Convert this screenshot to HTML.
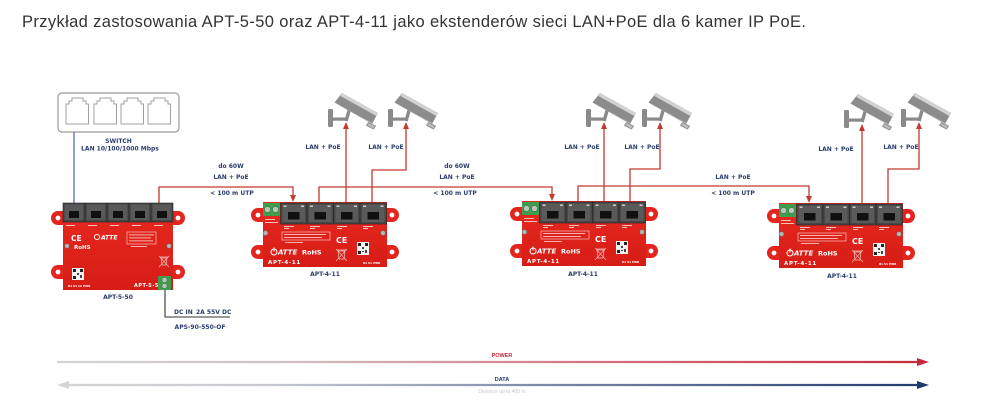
<!DOCTYPE html>
<html><head><meta charset="utf-8">
<style>
html,body{margin:0;padding:0;background:#fff;}
body{width:1003px;height:419px;overflow:hidden;}
svg{display:block;}
.lb{font-family:"DejaVu Sans","Liberation Sans",sans-serif;font-weight:bold;font-size:6px;fill:#2b3d6c;}
.wt{font-family:"DejaVu Sans","Liberation Sans",sans-serif;font-weight:bold;fill:#fff;}
</style></head>
<body>
<svg width="1003" height="419" viewBox="0 0 1003 419" xmlns="http://www.w3.org/2000/svg">
<defs>
 <linearGradient id="redg" x1="0" y1="0" x2="0" y2="1">
  <stop offset="0" stop-color="#e8291f"/><stop offset="1" stop-color="#d61d16"/>
 </linearGradient>
 <linearGradient id="pw" x1="57" y1="0" x2="930" y2="0" gradientUnits="userSpaceOnUse">
  <stop offset="0" stop-color="#d4d4d4"/><stop offset="0.25" stop-color="#cfc3c5"/><stop offset="0.55" stop-color="#d6818d"/><stop offset="1" stop-color="#c8283c"/>
 </linearGradient>
 <linearGradient id="dt" x1="57" y1="0" x2="930" y2="0" gradientUnits="userSpaceOnUse">
  <stop offset="0" stop-color="#d4d4d4"/><stop offset="0.25" stop-color="#c6c8cf"/><stop offset="0.55" stop-color="#7f8aa8"/><stop offset="1" stop-color="#1f3a6e"/>
 </linearGradient>

 <g id="cam">
  <rect x="0" y="16" width="5" height="18" rx="1.2" fill="#8a8a8a"/>
  <rect x="3.5" y="24.5" width="15.5" height="3.2" fill="#8a8a8a"/>
  <path d="M16.5,27.5 L20.5,13 L23.8,14 L19.7,28.5 Z" fill="#8a8a8a"/>
  <polygon points="14,0 50,20 44,31 6.5,9.5" fill="#8c8c8c"/>
  <polygon points="14,0 50,20 48.4,23 12.4,3" fill="#d2d2d2"/>
  <polygon points="9,11 45,30.5 44,31 6.5,9.5" fill="#c4c4c4"/>
  <polygon points="40.5,29.5 47.5,33 45.5,36 38.5,32.5" fill="#b9b9b9" stroke="#8a8a8a" stroke-width="0.8"/>
 </g>

 <g id="port">
  <rect x="0" y="0" width="26.5" height="21" fill="#474747" stroke="#262626" stroke-width="0.6"/>
  <rect x="2" y="1.5" width="22.5" height="17.5" fill="#5a5a5a"/>
  <rect x="7.5" y="9" width="11.5" height="7.5" fill="#101010"/>
  <rect x="3" y="2.5" width="3" height="1.5" fill="#ccc"/>
  <rect x="20.5" y="2.5" width="3" height="1.5" fill="#ccc"/>
 </g>
 <g id="port5">
  <rect x="0" y="0" width="22" height="19" fill="#474747" stroke="#262626" stroke-width="0.6"/>
  <rect x="1.8" y="1.5" width="18.4" height="15.5" fill="#595959"/>
  <rect x="6" y="8" width="10" height="7" fill="#101010"/>
 </g>

 <g id="apt4">
  <path d="M0,6 H-5 A7,7 0 0 0 -5,20 H0 Z" fill="#e3251d"/>
  <circle cx="-5" cy="13" r="2.4" fill="#fff"/>
  <path d="M0,43 H-5 A7,7 0 0 0 -5,57 H0 Z" fill="#e3251d"/>
  <circle cx="-5" cy="50" r="2.4" fill="#fff"/>
  <path d="M124,6 H129 A7,7 0 0 1 129,20 H124 Z" fill="#e3251d"/>
  <circle cx="129" cy="13" r="2.4" fill="#fff"/>
  <path d="M124,43 H129 A7,7 0 0 1 129,57 H124 Z" fill="#e3251d"/>
  <circle cx="129" cy="50" r="2.4" fill="#fff"/>
  <rect x="0" y="0" width="124" height="65" fill="url(#redg)"/>
  <rect x="0" y="1" width="17" height="13" fill="#3f9e4d"/>
  <circle cx="4.5" cy="7.5" r="3" fill="#b9c4bc" stroke="#2e6e38" stroke-width="0.5"/>
  <circle cx="12.5" cy="7.5" r="3" fill="#b9c4bc" stroke="#2e6e38" stroke-width="0.5"/>
  <rect x="2" y="17" width="10" height="1" fill="#f5c0bc"/>
  <rect x="2" y="20" width="13" height="1" fill="#f5c0bc"/>
  <use href="#port" x="17.5" y="1"/>
  <use href="#port" x="44" y="1"/>
  <use href="#port" x="70.5" y="1"/>
  <use href="#port" x="97" y="1"/>
  <rect x="21" y="24" width="10" height="1" fill="#f7c5c1"/><rect x="21" y="26" width="5" height="1" fill="#f7c5c1"/>
  <rect x="47" y="24" width="10" height="1" fill="#f7c5c1"/><rect x="47" y="26" width="5" height="1" fill="#f7c5c1"/>
  <rect x="74" y="24" width="10" height="1" fill="#f7c5c1"/><rect x="74" y="26" width="5" height="1" fill="#f7c5c1"/>
  <rect x="100" y="24" width="10" height="1" fill="#f7c5c1"/><rect x="100" y="26" width="5" height="1" fill="#f7c5c1"/>
  <circle cx="2.5" cy="31" r="2.4" fill="#b5b5b5" stroke="#6a6a6a" stroke-width="0.6"/>
  <circle cx="120" cy="31" r="2.4" fill="#b5b5b5" stroke="#6a6a6a" stroke-width="0.6"/>
  <rect x="19" y="30" width="48" height="8" fill="none" stroke="#fbd6d3" stroke-width="0.6"/>
  <rect x="21" y="32" width="42" height="0.8" fill="#fbd6d3"/>
  <rect x="21" y="35" width="38" height="0.8" fill="#fbd6d3"/>
  <rect x="22" y="40" width="18" height="0.8" fill="#fbd6d3"/>
  <text x="73" y="41" class="wt" font-size="8" font-weight="normal">CE</text>
  <rect x="94" y="40" width="12" height="13" fill="#f2f2f2"/>
  <rect x="95" y="41" width="3" height="3" fill="#222"/><rect x="102" y="41" width="3" height="3" fill="#222"/>
  <rect x="95" y="49" width="3" height="3" fill="#222"/><rect x="99" y="45" width="2" height="2" fill="#444"/>
  <rect x="102" y="48" width="2" height="3" fill="#444"/><rect x="99" y="49" width="2" height="1" fill="#444"/>
  <circle cx="11" cy="50" r="3" fill="none" stroke="#fff" stroke-width="1"/>
  <rect x="10.5" y="45.5" width="1" height="4" fill="#fff"/>
  <text x="15" y="52.5" class="wt" font-size="7" font-style="italic">ATTE</text>
  <text x="39" y="52.5" class="wt" font-size="6.5">RoHS</text>
  <path d="M75,49 h7 l-1,8 h-5 z M74,48 h9" fill="none" stroke="#f4c4c0" stroke-width="0.7"/>
  <path d="M73,47 L84,59 M84,47 L73,59" stroke="#f4c4c0" stroke-width="0.6"/>
  <text x="5" y="62" class="wt" font-size="5.5" letter-spacing="0.7">APT-4-11</text>
  <text x="100" y="62" class="wt" font-size="2.8" font-weight="normal">B1  S1  PWR</text>
 </g>
</defs>

<!-- Title -->
<text x="22" y="27" font-family="Liberation Sans, sans-serif" font-size="16.5" fill="#333" textLength="784" lengthAdjust="spacing">Przykład zastosowania APT-5-50 oraz APT-4-11 jako ekstenderów sieci LAN+PoE dla 6 kamer IP PoE.</text>

<!-- Switch -->
<rect x="58" y="93" width="121" height="39" rx="4" fill="#fff" stroke="#9a9a9a" stroke-width="1.2"/>
<g fill="none" stroke="#a0a0a0" stroke-width="1">
 <path d="M66,124 V104 H69 V101 H72 V98 H83 V101 H86 V104 H88.5 V124 Z"/>
 <path d="M94,124 V104 H97 V101 H100 V98 H111 V101 H114 V104 H116.5 V124 Z"/>
 <path d="M121,124 V104 H124 V101 H127 V98 H138 V101 H141 V104 H143.5 V124 Z"/>
 <path d="M148,124 V104 H151 V101 H154 V98 H165 V101 H168 V104 H170.5 V124 Z"/>
</g>
<text x="118.5" y="143" class="lb" text-anchor="middle">SWITCH</text>
<text x="120" y="150.5" class="lb" text-anchor="middle">LAN 10/100/1000 Mbps</text>

<!-- blue line -->
<line x1="74" y1="132" x2="74" y2="204" stroke="#5a6db0" stroke-width="1.3"/>

<!-- red connectors -->
<g fill="none" stroke="#c43a30" stroke-width="1.3">
 <polyline points="159,204 159,187 293,187 293,196"/>
 <polyline points="319,204 319,187 552,187 552,195"/>
 <polyline points="346,204 346,128"/>
 <polyline points="372,204 372,170 406,170 406,128"/>
 <polyline points="578,203 578,186 809,186 809,197"/>
 <polyline points="604,203 604,128"/>
 <polyline points="630,203 630,169 660,169 660,128"/>
 <polyline points="862,204 862,130"/>
 <polyline points="888,204 888,169 919,169 919,128"/>
</g>
<g fill="#c43a30">
 <polygon points="293,202 290,195 296,195"/>
 <polygon points="552,201 549,194 555,194"/>
 <polygon points="809,203 806,196 812,196"/>
 <polygon points="346,122 343,129 349,129"/>
 <polygon points="406,122 403,129 409,129"/>
 <polygon points="604,122 601,129 607,129"/>
 <polygon points="660,122 657,129 663,129"/>
 <polygon points="862,124 859,131 865,131"/>
 <polygon points="919,122 916,129 922,129"/>
</g>

<!-- cameras -->
<use href="#cam" x="328" y="93"/>
<use href="#cam" x="388" y="93"/>
<use href="#cam" x="586" y="93"/>
<use href="#cam" x="642" y="93"/>
<use href="#cam" x="844" y="94"/>
<use href="#cam" x="901" y="93"/>

<!-- camera labels -->
<text x="323" y="149" class="lb" text-anchor="middle">LAN + PoE</text>
<text x="386" y="149" class="lb" text-anchor="middle">LAN + PoE</text>
<text x="582" y="149" class="lb" text-anchor="middle">LAN + PoE</text>
<text x="642" y="149" class="lb" text-anchor="middle">LAN + PoE</text>
<text x="836" y="151" class="lb" text-anchor="middle">LAN + PoE</text>
<text x="901" y="149" class="lb" text-anchor="middle">LAN + PoE</text>

<!-- link labels -->
<text x="231" y="168" class="lb" text-anchor="middle">do 60W</text>
<text x="231" y="179" class="lb" text-anchor="middle">LAN + PoE</text>
<text x="232" y="195" class="lb" text-anchor="middle">&lt; 100 m UTP</text>
<text x="457" y="168" class="lb" text-anchor="middle">do 60W</text>
<text x="457" y="179" class="lb" text-anchor="middle">LAN + PoE</text>
<text x="455" y="195" class="lb" text-anchor="middle">&lt; 100 m UTP</text>
<text x="733" y="179" class="lb" text-anchor="middle">LAN + PoE</text>
<text x="733" y="195" class="lb" text-anchor="middle">&lt; 100 m UTP</text>

<!-- APT-5-50 -->
<g transform="translate(63,203)">
 <path d="M0,8 H-5 A7,7 0 0 0 -5,22 H0 Z" fill="#e3251d"/><circle cx="-5" cy="15" r="2.4" fill="#fff"/>
 <path d="M0,62 H-5 A7,7 0 0 0 -5,76 H0 Z" fill="#e3251d"/><circle cx="-5" cy="69" r="2.4" fill="#fff"/>
 <path d="M110,8 H115 A7,7 0 0 1 115,22 H110 Z" fill="#e3251d"/><circle cx="115" cy="15" r="2.4" fill="#fff"/>
 <path d="M110,62 H115 A7,7 0 0 1 115,76 H110 Z" fill="#e3251d"/><circle cx="115" cy="69" r="2.4" fill="#fff"/>
 <rect x="0" y="0" width="110" height="87" fill="url(#redg)"/>
 <use href="#port5" x="0" y="0"/>
 <use href="#port5" x="22" y="0"/>
 <use href="#port5" x="44" y="0"/>
 <use href="#port5" x="66" y="0"/>
 <use href="#port5" x="88" y="0"/>
 <rect x="3" y="22" width="9" height="1" fill="#f7c5c1"/><rect x="25" y="22" width="9" height="1" fill="#f7c5c1"/>
 <rect x="47" y="22" width="9" height="1" fill="#f7c5c1"/><rect x="69" y="22" width="9" height="1" fill="#f7c5c1"/>
 <rect x="91" y="22" width="9" height="1" fill="#f7c5c1"/>
 <text x="8" y="38" class="wt" font-size="7.5" font-weight="normal">CE</text>
 <circle cx="34" cy="34" r="2.6" fill="none" stroke="#fff" stroke-width="0.9"/>
 <text x="38" y="36.5" class="wt" font-size="6" font-style="italic">ATTE</text>
 <rect x="64" y="29" width="29" height="12" fill="none" stroke="#fbd6d3" stroke-width="0.6"/>
 <rect x="66" y="31.5" width="25" height="0.8" fill="#fbd6d3"/><rect x="66" y="34.5" width="22" height="0.8" fill="#fbd6d3"/>
 <rect x="66" y="37.5" width="24" height="0.8" fill="#fbd6d3"/><rect x="68" y="43" width="16" height="0.8" fill="#fbd6d3"/>
 <circle cx="4" cy="43" r="2.3" fill="#b5b5b5" stroke="#6a6a6a" stroke-width="0.6"/>
 <circle cx="106" cy="43" r="2.3" fill="#b5b5b5" stroke="#6a6a6a" stroke-width="0.6"/>
 <text x="11" y="46" class="wt" font-size="5.5">RoHS</text>
 <path d="M98,55 h6 l-1,7 h-4 z M97,54 h8" fill="none" stroke="#f4c4c0" stroke-width="0.7"/>
 <path d="M96,53 L106,64 M106,53 L96,64" stroke="#f4c4c0" stroke-width="0.6"/>
 <rect x="9" y="65" width="12" height="12" fill="#f2f2f2"/>
 <rect x="10" y="66" width="3" height="3" fill="#222"/><rect x="17" y="66" width="3" height="3" fill="#222"/>
 <rect x="10" y="73" width="3" height="3" fill="#222"/><rect x="14" y="70" width="2" height="2" fill="#444"/><rect x="17" y="72" width="2" height="3" fill="#444"/>
 <text x="5" y="84" class="wt" font-size="2.8" font-weight="normal">B1  S1      1A  PWR</text>
 <text x="71" y="84" class="wt" font-size="5" letter-spacing="0.5">APT-5-50</text>
 <rect x="95" y="73" width="13" height="14" fill="#3f9e4d"/>
 <circle cx="101.5" cy="77" r="2.6" fill="#b9c4bc" stroke="#2e6e38" stroke-width="0.5"/>
 <circle cx="101.5" cy="83" r="2.6" fill="#b9c4bc" stroke="#2e6e38" stroke-width="0.5"/>
</g>
<text x="118" y="299" class="lb" text-anchor="middle">APT-5-50</text>

<!-- DC line -->
<polyline points="165,290 165,317 230,317" fill="none" stroke="#333" stroke-width="1.1"/>
<text x="174" y="314" class="lb" font-size="5.5" fill="#222">DC IN</text>
<text x="196" y="314" class="lb" font-size="5.5" fill="#222">2A 55V DC</text>
<text x="200" y="329" class="lb" font-size="5.5" text-anchor="middle">APS-90-550-OF</text>

<!-- APT-4-11 devices -->
<use href="#apt4" x="263" y="202"/>
<use href="#apt4" x="522" y="201"/>
<use href="#apt4" x="779" y="203"/>
<text x="325" y="276" class="lb" text-anchor="middle">APT-4-11</text>
<text x="583" y="276" class="lb" text-anchor="middle">APT-4-11</text>
<text x="842" y="278" class="lb" text-anchor="middle">APT-4-11</text>

<!-- bottom arrows -->
<line x1="57" y1="362" x2="919" y2="362" stroke="url(#pw)" stroke-width="2.2"/>
<polygon points="929,362 917,358 917,366" fill="#c8283c"/>
<text x="502" y="357" font-family="Liberation Sans, sans-serif" font-weight="bold" font-size="5.5" fill="#c8283c" text-anchor="middle">POWER</text>

<line x1="66" y1="385" x2="919" y2="385" stroke="url(#dt)" stroke-width="2.2"/>
<polygon points="57,385 69,381 69,389" fill="#d4d4d4"/>
<polygon points="929,385 917,381 917,389" fill="#1f3a6e"/>
<text x="502" y="381" font-family="Liberation Sans, sans-serif" font-weight="bold" font-size="5.5" fill="#1f3a6e" text-anchor="middle">DATA</text>
<text x="502" y="393" font-family="Liberation Sans, sans-serif" font-size="5" fill="#c8c8c8" text-anchor="middle">Distance up to 400 m</text>
</svg>
</body></html>
